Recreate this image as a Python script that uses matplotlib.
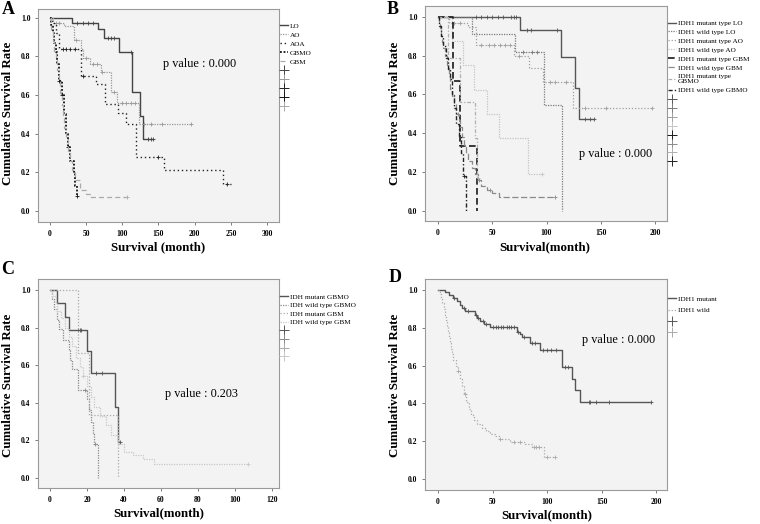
import numpy as np
import matplotlib
matplotlib.use('Agg')
import matplotlib.pyplot as plt
from matplotlib.lines import Line2D

plt.rcParams['font.family'] = ['Liberation Serif', 'DejaVu Serif']

# ---------------- panel A ----------------
a_lo_t = [31, 67, 75, 96, 113, 125, 128]
a_lo_s = [0.975, 0.94, 0.895, 0.82, 0.615, 0.49, 0.37]
a_lo_c = [38, 45, 52, 60, 80, 85, 88, 112, 135, 140, 143]
a_lo_end = 143

a_ao_t = [4, 20, 33, 43, 46, 55, 70, 84, 92, 123]
a_ao_s = [0.975, 0.955, 0.885, 0.84, 0.79, 0.76, 0.72, 0.615, 0.56, 0.45]
a_ao_c = [8, 12, 36, 50, 60, 65, 72, 88, 100, 105, 112, 118, 130, 140, 155, 195]
a_ao_end = 195

a_aoa_t = [3, 8, 12, 43, 63, 76, 94, 105, 119, 157, 239]
a_aoa_s = [0.97, 0.92, 0.84, 0.70, 0.655, 0.553, 0.505, 0.45, 0.28, 0.21, 0.14]
a_aoa_c = [18, 22, 28, 34, 46, 150, 245]
a_aoa_end = 250

a_gbmo_t = [2, 4, 6, 8, 10, 12, 17, 20, 22, 25, 27, 33, 35, 37]
a_gbmo_s = [0.96, 0.92, 0.87, 0.82, 0.76, 0.67, 0.60, 0.50, 0.40, 0.33, 0.26, 0.20, 0.13, 0.08]
a_gbmo_c = [12, 17, 25, 37]
a_gbmo_end = 37

a_gbm_t = [1, 2, 4, 6, 8, 10, 12, 14, 16, 18, 20, 22, 25, 28, 31, 35, 41, 50, 55]
a_gbm_s = [0.97, 0.93, 0.88, 0.83, 0.78, 0.73, 0.67, 0.61, 0.55, 0.49, 0.43, 0.37,
           0.31, 0.26, 0.21, 0.16, 0.11, 0.09, 0.07]
a_gbm_c = [107]
a_gbm_end = 107

a_labels = ['LO', 'AO', 'AOA', 'GBMO', 'GBM']

# ---------------- panel B ----------------
b_mlo_t = [76, 113, 126, 130]
b_mlo_s = [0.93, 0.795, 0.635, 0.475]
b_mlo_c = [35, 40, 45, 50, 55, 60, 67, 70, 72, 82, 86, 110, 135, 140, 144]
b_mlo_end = 144

b_wlo_t = [31, 71, 98, 114]
b_wlo_s = [0.91, 0.818, 0.545, 0.0]
b_wlo_c = [78, 87, 91]
b_wlo_end = 114

b_mao_t = [10, 28, 35, 70, 84, 97, 124]
b_mao_s = [0.97, 0.945, 0.855, 0.80, 0.735, 0.665, 0.53]
b_mao_c = [15, 20, 40, 47, 52, 57, 62, 66, 75, 103, 108, 118, 135, 155, 197]
b_mao_end = 197

b_wao_t = [13, 23, 33, 45, 56, 83]
b_wao_s = [0.875, 0.75, 0.625, 0.5, 0.375, 0.19]
b_wao_c = [96]
b_wao_end = 96

b_mgbm_t = [14, 20, 36]
b_mgbm_s = [0.667, 0.333, 0.0]
b_mgbm_c = []
b_mgbm_end = 36

b_wgbm_t = [1, 2, 3, 4, 5, 6, 8, 10, 11, 13, 15, 17, 19, 20, 22, 24, 26, 28, 31, 34, 37, 40, 45, 50, 56]
b_wgbm_s = [0.97, 0.94, 0.9, 0.87, 0.84, 0.8, 0.75, 0.7, 0.63, 0.59, 0.55, 0.5, 0.47, 0.43,
            0.38, 0.34, 0.3, 0.26, 0.22, 0.19, 0.16, 0.13, 0.11, 0.095, 0.075]
b_wgbm_c = [18, 38, 48, 108]
b_wgbm_end = 108

b_mgbmo_t = [9, 20, 34, 36]
b_mgbmo_s = [0.79, 0.56, 0.375, 0.17]
b_mgbmo_c = [37]
b_mgbmo_end = 37

b_wgbmo_t = [1, 3, 5, 7, 9, 11, 13, 15, 17, 19, 21, 23, 26]
b_wgbmo_s = [0.95, 0.9, 0.85, 0.79, 0.73, 0.68, 0.6, 0.53, 0.45, 0.38, 0.3, 0.18, 0.0]
b_wgbmo_c = [24]
b_wgbmo_end = 26

b_labels = ['IDH1 mutant type LO', 'IDH1 wild type LO', 'IDH1 mutant type AO',
            'IDH1 wild type AO', 'IDH1 mutant type GBM', 'IDH1 wild type GBM',
            'IDH1 mutant type\nGBMO', 'IDH1 wild type GBMO']

# ---------------- panel C ----------------
c_mgbmo_t = [4, 8, 10, 20, 22, 35, 37]
c_mgbmo_s = [0.929, 0.857, 0.786, 0.675, 0.56, 0.375, 0.19]
c_mgbmo_c = [15, 16, 17, 25, 28, 38]
c_mgbmo_end = 38

c_wgbmo_t = [1, 2, 4, 5, 7, 10, 11, 12, 15, 20, 21, 22, 23, 24, 26]
c_wgbmo_s = [0.95, 0.9, 0.84, 0.79, 0.735, 0.68, 0.63, 0.58, 0.47, 0.42, 0.36, 0.3, 0.24, 0.18, 0.0]
c_wgbmo_c = [19, 24.5]
c_wgbmo_end = 26

c_mgbm_t = [15, 21, 37]
c_mgbm_s = [0.667, 0.333, 0.0]
c_mgbm_c = []
c_mgbm_end = 37

c_wgbm_t = [1, 3, 4, 6, 8, 10, 12, 14, 16, 18, 20, 22, 24, 27, 30, 33, 37, 40, 45, 50, 56]
c_wgbm_s = [0.97, 0.93, 0.89, 0.85, 0.8, 0.75, 0.7, 0.64, 0.59, 0.54, 0.49, 0.43, 0.38,
            0.33, 0.28, 0.23, 0.18, 0.14, 0.12, 0.1, 0.075]
c_wgbm_c = [18, 107]
c_wgbm_end = 107

c_labels = ['IDH mutant GBMO', 'IDH wild type GBMO', 'IDH mutant GBM', 'IDH wild type GBM']

# ---------------- panel D ----------------
d_mut_t = [6, 10, 14, 17, 20, 22, 25, 34, 36, 38.5, 42.5, 47.5, 72, 75, 77, 84, 93.5,
           113.5, 122.5, 126, 130]
d_mut_s = [0.988, 0.975, 0.96, 0.94, 0.92, 0.905, 0.89, 0.87, 0.85, 0.835, 0.82, 0.805,
           0.78, 0.765, 0.75, 0.72, 0.685, 0.59, 0.53, 0.47, 0.405]
d_mut_c = [15, 24, 27, 35, 37, 41, 44, 50, 53, 55, 58, 60, 63, 65, 67, 70, 73, 79, 86, 89,
           96, 100, 104, 108, 116, 119, 138, 139, 145, 157, 195]
d_mut_end = 195

d_wild_t = [2, 3, 4, 5, 6, 7, 8, 9, 10, 11, 12, 13, 14, 16, 18, 20, 22, 24, 26, 28, 30, 33,
            36, 40, 44, 48, 52, 56, 66, 80, 86, 97]
d_wild_s = [0.98, 0.96, 0.93, 0.9, 0.87, 0.84, 0.81, 0.78, 0.75, 0.72, 0.69, 0.66, 0.63,
            0.6, 0.57, 0.53, 0.49, 0.45, 0.41, 0.37, 0.34, 0.31, 0.29, 0.27, 0.255, 0.24,
            0.225, 0.21, 0.195, 0.185, 0.168, 0.115]
d_wild_c = [18, 25, 57, 70, 75, 88, 90, 93, 100, 107]
d_wild_end = 107

d_labels = ['IDH1 mutant', 'IDH1 wild']

W, H = 760, 524


def px_axes(fig, x0, y0, x1, y1):
    return fig.add_axes([x0 / W, 1 - y1 / H, (x1 - x0) / W, (y1 - y0) / H])


def km(ax, t, s, cens, end, color, ls, lw):
    t = np.asarray(t, float)
    s = np.asarray(s, float)
    x = np.r_[0, t, end]
    y = np.r_[1, s, s[-1]]
    ax.step(x, y, where='post', color=color, linestyle=ls, lw=lw)
    if len(cens):
        c = np.asarray(cens, float)
        idx = np.searchsorted(t, c, side='right')
        cy = np.r_[1, s][idx]
        ax.plot(c, cy, '+', color=color, ms=3.5, mew=0.6, linestyle='none')


def style(ax, xlim, ylim, xticks):
    ax.set_facecolor('#f3f3f3')
    for sp in ax.spines.values():
        sp.set_color('#9a9a9a')
        sp.set_linewidth(0.8)
    ax.set_xlim(xlim)
    ax.set_ylim(ylim)
    ax.set_xticks(xticks)
    ax.set_yticks([0, 0.2, 0.4, 0.6, 0.8, 1.0])
    ax.set_yticklabels(['%.1f' % v for v in [0, 0.2, 0.4, 0.6, 0.8, 1.0]])
    ax.tick_params(direction='out', length=2.5, width=0.6, color='#666666',
                   labelsize=5.5, pad=3)
    for lbl in ax.get_xticklabels() + ax.get_yticklabels():
        lbl.set_fontweight('bold')


def legend(ax, handles, labels, x, y, plus_colors, spacing):
    hs = list(handles) + [Line2D([], [], marker='+', ms=7, mew=0.7, color=c, linestyle='none')
                          for c in plus_colors]
    ls = list(labels) + [''] * len(plus_colors)
    ax.legend(hs, ls, loc='upper left', bbox_to_anchor=(x, y), frameon=False,
              fontsize=5.2, handlelength=1.1, handletextpad=0.2, labelspacing=spacing,
              borderaxespad=0, borderpad=0)


fig = plt.figure(figsize=(7.6, 5.24), dpi=100)

# ---- A ----
axA = px_axes(fig, 38, 9, 279, 222)
A_styles = [('#444444', '-', 1.0), ('#999999', (0, (1, 1)), 0.9), ('#222222', (0, (1, 2)), 1.0),
            ('#111111', (0, (1, 1)), 1.3), ('#aaaaaa', (0, (4, 2.5)), 0.9)]
A_data = [(a_lo_t, a_lo_s, a_lo_c, a_lo_end), (a_ao_t, a_ao_s, a_ao_c, a_ao_end),
          (a_aoa_t, a_aoa_s, a_aoa_c, a_aoa_end), (a_gbmo_t, a_gbmo_s, a_gbmo_c, a_gbmo_end),
          (a_gbm_t, a_gbm_s, a_gbm_c, a_gbm_end)]
for (t, s, c, e), (col, ls, lw) in zip(A_data, A_styles):
    km(axA, t, s, c, e, col, ls, lw)
style(axA, (-16.6, 316.6), (-0.057, 1.045), range(0, 301, 50))
axA.text(156, 0.76, 'p value : 0.000', fontsize=8.8, va='center')
legend(axA, [Line2D([], [], color=c, linestyle=l, lw=w) for c, l, w in A_styles], a_labels,
       1.005, 0.935, [st[0] for st in A_styles], 0.4)

# ---- B ----
axB = px_axes(fig, 425, 6, 667, 221)
B_styles = [('#555555', '-', 1.0), ('#7a7a7a', (0, (1, 1)), 0.9), ('#a0a0a0', (0, (1, 1.5)), 0.9),
            ('#c4c4c4', (0, (1, 1)), 0.9), ('#1a1a1a', (0, (4, 2)), 1.2),
            ('#8a8a8a', (0, (5, 2)), 0.9), ('#b0b0b0', (0, (3, 1.5, 1, 1.5)), 0.9),
            ('#222222', (0, (3, 1.5, 1, 1.5)), 1.0)]
B_data = [(b_mlo_t, b_mlo_s, b_mlo_c, b_mlo_end), (b_wlo_t, b_wlo_s, b_wlo_c, b_wlo_end),
          (b_mao_t, b_mao_s, b_mao_c, b_mao_end), (b_wao_t, b_wao_s, b_wao_c, b_wao_end),
          (b_mgbm_t, b_mgbm_s, b_mgbm_c, b_mgbm_end), (b_wgbm_t, b_wgbm_s, b_wgbm_c, b_wgbm_end),
          (b_mgbmo_t, b_mgbmo_s, b_mgbmo_c, b_mgbmo_end),
          (b_wgbmo_t, b_wgbmo_s, b_wgbmo_c, b_wgbmo_end)]
for (t, s, c, e), (col, ls, lw) in zip(B_data, B_styles):
    km(axB, t, s, c, e, col, ls, lw)
style(axB, (-12, 211), (-0.051, 1.055), range(0, 201, 50))
axB.text(130, 0.293, 'p value : 0.000', fontsize=8.8, va='center')
legend(axB, [Line2D([], [], color=c, linestyle=l, lw=w) for c, l, w in B_styles], b_labels,
       1.005, 0.935, [st[0] for st in B_styles], 0.4)

# ---- C ----
axC = px_axes(fig, 38, 279, 279, 488)
C_styles = [('#555555', '-', 1.0), ('#888888', (0, (1, 1)), 0.9),
            ('#aaaaaa', (0, (1, 1.5)), 0.9), ('#c8c8c8', (0, (1, 1)), 0.9)]
C_data = [(c_mgbmo_t, c_mgbmo_s, c_mgbmo_c, c_mgbmo_end),
          (c_wgbmo_t, c_wgbmo_s, c_wgbmo_c, c_wgbmo_end),
          (c_mgbm_t, c_mgbm_s, c_mgbm_c, c_mgbm_end),
          (c_wgbm_t, c_wgbm_s, c_wgbm_c, c_wgbm_end)]
for (t, s, c, e), (col, ls, lw) in zip(C_data, C_styles):
    km(axC, t, s, c, e, col, ls, lw)
style(axC, (-6.5, 123.8), (-0.053, 1.058), range(0, 121, 20))
axC.text(62, 0.447, 'p value : 0.203', fontsize=8.8, va='center')
legend(axC, [Line2D([], [], color=c, linestyle=l, lw=w) for c, l, w in C_styles], c_labels,
       1.005, 0.93, [st[0] for st in C_styles], 0.35)

# ---- D ----
axD = px_axes(fig, 425, 279, 667, 490)
D_styles = [('#555555', '-', 1.0), ('#aaaaaa', (0, (1, 1.5)), 0.9)]
D_data = [(d_mut_t, d_mut_s, d_mut_c, d_mut_end), (d_wild_t, d_wild_s, d_wild_c, d_wild_end)]
for (t, s, c, e), (col, ls, lw) in zip(D_data, D_styles):
    km(axD, t, s, c, e, col, ls, lw)
style(axD, (-12, 210), (-0.058, 1.058), range(0, 201, 50))
axD.text(132, 0.735, 'p value : 0.000', fontsize=8.8, va='center')
legend(axD, [Line2D([], [], color=c, linestyle=l, lw=w) for c, l, w in D_styles], d_labels,
       1.005, 0.92, [st[0] for st in D_styles], 0.7)

# ---- labels ----
for x, y, s in [(158, 247, 'Survival (month)'), (545, 247, 'Survival(month)'),
                (159, 513, 'Survival(month)'), (547, 515, 'Survival(month)')]:
    fig.text(x / W, 1 - y / H, s, fontsize=9.3, fontweight='bold', ha='center', va='center')
for x, y in [(8, 113), (395, 113), (8, 385), (395, 385)]:
    fig.text(x / W, 1 - y / H, 'Cumulative Survival Rate', fontsize=9.3, fontweight='bold',
             rotation=90, ha='center', va='center')
for x, y, s in [(8, 10, 'A'), (393, 10, 'B'), (8, 270, 'C'), (395, 278, 'D')]:
    fig.text(x / W, 1 - y / H, s, fontsize=13, fontweight='bold', ha='center', va='center')

fig.savefig('out.png', dpi=100)
